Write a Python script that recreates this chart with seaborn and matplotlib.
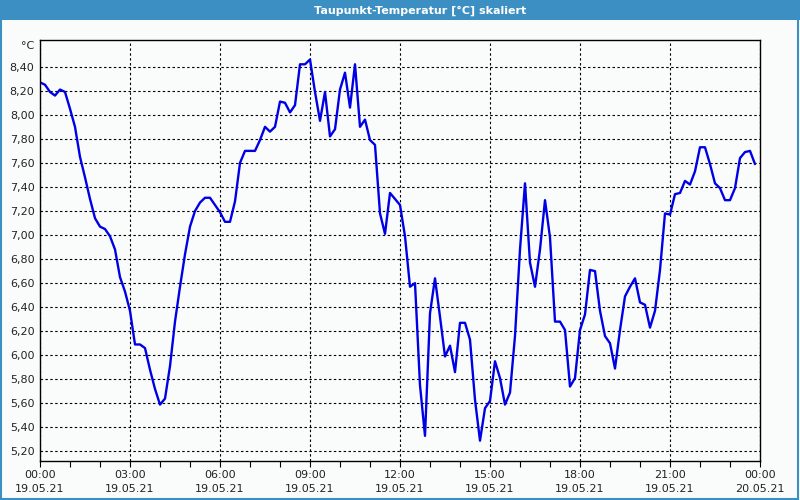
import matplotlib
matplotlib.use("Agg")
import matplotlib.pyplot as plt
import seaborn as sns
import pandas as pd
from matplotlib.patches import Rectangle
from matplotlib.ticker import FixedLocator, MultipleLocator

# --- data (minutes since 19.05.21 00:00, dew point °C) ---
minutes = [0, 10, 20, 30, 40, 50, 60, 70, 80, 90, 100, 110, 120, 130, 140, 150,
           160, 170, 180, 190, 200, 210, 220, 230, 240, 250, 260, 270, 280, 290,
           300, 310, 320, 330, 340, 350, 360, 370, 380, 390, 400, 410, 420, 430,
           440, 450, 460, 470, 480, 490, 500, 510, 520, 530, 540, 550, 560, 570,
           580, 590, 600, 610, 620, 630, 640, 650, 660, 670, 680, 690, 700, 710,
           720, 730, 740, 750, 760, 770, 780, 790, 800, 810, 820, 830, 840, 850,
           860, 870, 880, 890, 900, 910, 920, 930, 940, 950, 960, 970, 980, 990,
           1000, 1010, 1020, 1030, 1040, 1050, 1060, 1070, 1080, 1090, 1100, 1110,
           1120, 1130, 1140, 1150, 1160, 1170, 1180, 1190, 1200, 1210, 1220, 1230,
           1240, 1250, 1260, 1270, 1280, 1290, 1300, 1310, 1320, 1330, 1340, 1350,
           1360, 1370, 1380, 1390, 1400, 1410, 1420, 1430]
dewpoint = [8.27, 8.25, 8.19, 8.16, 8.21, 8.19, 8.05, 7.90, 7.65, 7.48, 7.30, 7.14,
            7.07, 7.05, 6.99, 6.88, 6.65, 6.53, 6.37, 6.09, 6.09, 6.06, 5.88, 5.72,
            5.59, 5.64, 5.91, 6.28, 6.57, 6.84, 7.07, 7.20, 7.27, 7.31, 7.31, 7.25,
            7.19, 7.11, 7.11, 7.28, 7.60, 7.70, 7.70, 7.70, 7.79, 7.90, 7.86, 7.90,
            8.11, 8.10, 8.02, 8.08, 8.42, 8.42, 8.46, 8.19, 7.95, 8.19, 7.82, 7.88,
            8.21, 8.35, 8.06, 8.42, 7.90, 7.96, 7.79, 7.75, 7.18, 7.01, 7.35, 7.30,
            7.25, 6.99, 6.57, 6.60, 5.75, 5.33, 6.35, 6.64, 6.32, 5.99, 6.08, 5.86,
            6.27, 6.27, 6.13, 5.63, 5.29, 5.56, 5.62, 5.95, 5.81, 5.59, 5.69, 6.16,
            6.88, 7.43, 6.77, 6.57, 6.88, 7.29, 6.98, 6.28, 6.28, 6.21, 5.74, 5.81,
            6.21, 6.34, 6.71, 6.70, 6.37, 6.16, 6.10, 5.89, 6.21, 6.49, 6.57, 6.64,
            6.44, 6.42, 6.23, 6.37, 6.71, 7.18, 7.17, 7.34, 7.35, 7.45, 7.42, 7.53,
            7.73, 7.73, 7.59, 7.43, 7.39, 7.29, 7.29, 7.39, 7.64, 7.69, 7.70, 7.59]

x_tick_minutes = [0, 180, 360, 540, 720, 900, 1080, 1260, 1440]
x_tick_labels = ["00:00\n19.05.21", "03:00\n19.05.21", "06:00\n19.05.21",
                 "09:00\n19.05.21", "12:00\n19.05.21", "15:00\n19.05.21",
                 "18:00\n19.05.21", "21:00\n19.05.21", "00:00\n20.05.21"]
y_ticks = [5.2, 5.4, 5.6, 5.8, 6.0, 6.2, 6.4, 6.6, 6.8, 7.0, 7.2, 7.4, 7.6, 7.8,
           8.0, 8.2, 8.4]
title = "Taupunkt-Temperatur [°C] skaliert"
unit = "°C"

df = pd.DataFrame({"min": minutes, "val": dewpoint})

sns.set_style("white")
plt.rcParams["font.family"] = ["DejaVu Sans"]

bg = "#fafcfb"
blue_frame = "#3c8fc3"

fig = plt.figure(figsize=(8, 5), dpi=100, facecolor=bg)
ax = fig.add_axes([0.05, 0.079, 0.90, 0.8405])
ax.set_facecolor(bg)

sns.lineplot(data=df, x="min", y="val", ax=ax, color="#0000e6", linewidth=1.7)

ax.set_xlim(0, 1440)
ax.set_ylim(5.125, 8.62)

ax.set_xticks(x_tick_minutes)
ax.set_xticklabels(x_tick_labels, fontsize=8, color="#222222", linespacing=1.45)
ax.xaxis.set_minor_locator(MultipleLocator(60))
ax.tick_params(axis="x", which="both", direction="out", length=4, width=0.8,
               color="black", pad=3, bottom=True)
ax.set_yticks(y_ticks)
ax.set_yticklabels([f"{v:.2f}".replace(".", ",") for v in y_ticks],
                   fontsize=8, color="#222222")
ax.tick_params(axis="y", length=0, pad=4)

ax.grid(True, which="major", axis="both", color="black", linestyle=(0, (2.2, 2.2)),
        linewidth=0.8)
ax.set_axisbelow(True)
for sp in ax.spines.values():
    sp.set_visible(True)
    sp.set_color("black")
    sp.set_linewidth(1.0)

ax.set_xlabel("")
ax.set_ylabel("")

# unit label above y axis
fig.text(0.034, 0.908, unit, fontsize=8, ha="center", va="center", color="#222222")

# title bar
fig.patches.append(Rectangle((0, 0.96), 1, 0.04, transform=fig.transFigure,
                             facecolor=blue_frame, edgecolor="none", zorder=0))
fig.text(0.525, 0.979, title, fontsize=8, fontweight="bold", color="white",
         ha="center", va="center")
# outer frame
fig.patches.append(Rectangle((0.001, 0.002), 0.997, 0.996, transform=fig.transFigure,
                             facecolor="none", edgecolor=blue_frame, linewidth=1.5,
                             zorder=5))

fig.savefig("out.png", dpi=100, facecolor=bg)
